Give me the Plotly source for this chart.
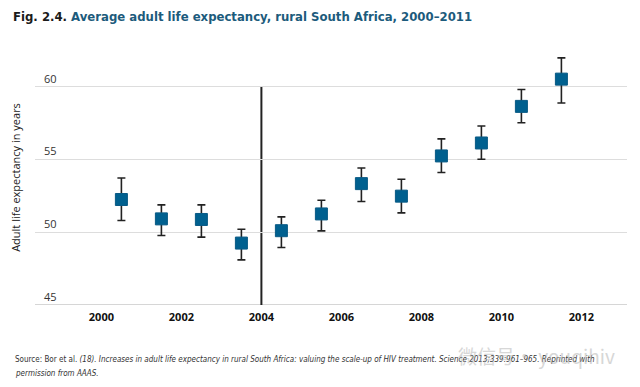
import plotly.graph_objects as go

# Data
years_mid = [2000.5, 2001.5, 2002.5, 2003.5, 2004.5, 2005.5,
             2006.5, 2007.5, 2008.5, 2009.5, 2010.5, 2011.5]
life_exp = [52.24, 50.91, 50.87, 49.25, 50.10, 51.25,
            53.33, 52.47, 55.23, 56.12, 58.63, 60.50]
ci_upper = [53.72, 51.87, 51.87, 50.20, 51.05, 52.19,
            54.40, 53.63, 56.40, 57.28, 59.79, 61.96]
ci_lower = [50.80, 49.77, 49.66, 48.10, 48.95, 50.09,
            52.10, 51.32, 54.09, 55.00, 57.51, 58.86]
x_ticks = [2000, 2002, 2004, 2006, 2008, 2010, 2012]
y_ticks = [45, 50, 55, 60]
marker_year = 2004

err_plus = [u - v for u, v in zip(ci_upper, life_exp)]
err_minus = [v - l for v, l in zip(life_exp, ci_lower)]

# page has an 8px body margin: figure is 632x379, offset by 8px
W, H = 632, 379
L, R, T, B = 27, 13, 42, 82
PW, PH = W - L - R, H - T - B

fig = go.Figure()
fig.add_trace(go.Scatter(
    x=years_mid, y=life_exp, mode="markers",
    marker=dict(symbol="square", size=12, color="#00608f",
                line=dict(color="#0a5a85", width=1)),
    error_y=dict(type="data", symmetric=False, array=err_plus,
                 arrayminus=err_minus, color="#222222",
                 thickness=1.6, width=4),
    showlegend=False,
))

fig.add_shape(type="line", xref="x", yref="y",
              x0=marker_year, x1=marker_year, y0=45, y1=60,
              line=dict(color="#222222", width=2), layer="below")

src_font = dict(family="DejaVu Sans Condensed, Roboto", size=8, color="#333333")

fig.update_layout(
    width=W, height=H,
    margin=dict(l=L, r=R, t=T, b=B),
    plot_bgcolor="white", paper_bgcolor="white",
    title=dict(
        text="<span style='color:#1b1b1b'>Fig. 2.4.</span> Average adult life expectancy, rural South Africa, 2000–2011",
        font=dict(family="DejaVu Sans Condensed, Roboto", size=13, color="#1c5b7c", weight="bold"),
        x=5 / W, xref="container", xanchor="left",
        y=1 - 4 / H, yref="container", yanchor="top",
    ),
    xaxis=dict(
        range=[1998.34, 2013.14], tickvals=x_ticks,
        ticktext=[str(t) for t in x_ticks],
        showgrid=False, zeroline=False, showline=False,
        ticks="", tickfont=dict(family="Open Sans", size=11, color="#111111", weight="bold"),
        ticklabelstandoff=4,
    ),
    yaxis=dict(
        range=[45, 62.5], tickvals=y_ticks,
        showgrid=True, gridcolor="#dddddd", gridwidth=1,
        zeroline=False, showline=False, ticks="",
        ticklabelposition="inside top", ticklabelstandoff=6,
        tickfont=dict(family="Open Sans", size=11, color="#333333"),
        title=dict(text="Adult life expectancy in years",
                   font=dict(family="Open Sans", size=11, color="#222222"),
                   standoff=30),
        automargin=False,
    ),
    annotations=[
        dict(text="Source: Bor et al. <i>(18). Increases in adult life expectancy in rural South Africa: valuing the scale-up of HIV treatment. Science 2013;339:961–965. Reprinted with</i>",
             xref="paper", yref="paper", x=-22 / PW, y=-(351 - 297) / PH,
             xanchor="left", yanchor="middle", align="left", showarrow=False,
             font=src_font),
        dict(text="<i>permission from AAAS.</i>",
             xref="paper", yref="paper", x=-22 / PW, y=-(365 - 297) / PH,
             xanchor="left", yanchor="middle", align="left", showarrow=False,
             font=src_font),
        dict(text="微信号· youqihiv",
             xref="paper", yref="paper", x=(609 - L) / PW, y=-(347 - 297) / PH,
             xanchor="right", yanchor="middle", showarrow=False, opacity=0.5,
             font=dict(family="Noto Sans CJK SC", size=19, color="#b0b0b0")),
    ],
)

fig.add_hline(y=45, line=dict(color="#c8c8c8", width=1.5), layer="below")

fig.write_html("out.html")
